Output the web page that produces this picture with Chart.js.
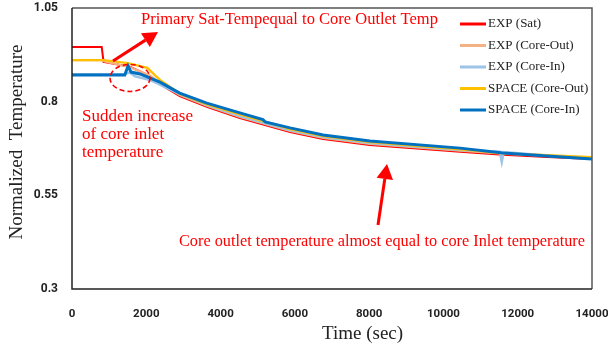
<!DOCTYPE html>
<html>
<head>
<meta charset="utf-8">
<script src="https://cdn.jsdelivr.net/npm/chart.js@4.4.1/dist/chart.umd.min.js"></script>
<style>
  html, body { margin: 0; padding: 0; background: #fff; overflow: hidden; }
</style>
</head>
<body>
<canvas id="grafico" width="608" height="349"></canvas>
<script>
// series labels and colours
const seriesNames = ['EXP (Sat)', 'EXP (Core-Out)', 'EXP (Core-In)', 'SPACE (Core-Out)', 'SPACE (Core-In)'];
const seriesColors = ['#ff0000', '#f4b183', '#9dc3e6', '#ffc000', '#0070c0'];

// tick labels
const xTicks = [0, 2000, 4000, 6000, 8000, 10000, 12000, 14000];
const yTicks = [0.3, 0.55, 0.8, 1.05];

// values (time in sec, normalized temperature)
const tSat = [0, 800, 850, 1560, 2100, 2370, 2900, 3630, 4520, 5870, 6760, 8020, 10450, 11600, 12790, 14000];
const vSat = [0.946, 0.946, 0.906, 0.893, 0.868, 0.847, 0.815, 0.786, 0.756, 0.719, 0.700, 0.684, 0.666, 0.658, 0.652, 0.647];

const tExpOut = [0, 800, 900, 1560, 2100, 2370, 2900, 3630, 4520, 5870, 6760, 8020, 10450, 11600, 12790, 14000];
const vExpOut = [0.911, 0.911, 0.907, 0.892, 0.870, 0.850, 0.818, 0.789, 0.759, 0.722, 0.703, 0.687, 0.669, 0.661, 0.655, 0.650];

const tExpIn = [0, 1400, 1550, 1700, 2100, 2900, 3630, 4520, 5870, 6760, 8020, 10450, 11520, 11570, 11620, 12790, 14000];
const vExpIn = [0.873, 0.873, 0.878, 0.868, 0.858, 0.820, 0.791, 0.762, 0.724, 0.706, 0.690, 0.671, 0.666, 0.640, 0.665, 0.656, 0.648];

const tSpaceOut = [0, 850, 1500, 2030, 2230, 2370, 2900, 3630, 4520, 5870, 6760, 8020, 10450, 11600, 12790, 14000];
const vSpaceOut = [0.911, 0.911, 0.903, 0.890, 0.871, 0.858, 0.821, 0.793, 0.766, 0.727, 0.708, 0.692, 0.673, 0.662, 0.657, 0.652];

const tSpaceIn = [0, 1420, 1510, 1590, 1830, 2370, 2900, 3630, 4520, 5140, 5200, 5870, 6760, 8020, 10450, 11600, 12790, 14000];
const vSpaceIn = [0.871, 0.871, 0.895, 0.879, 0.874, 0.852, 0.823, 0.796, 0.770, 0.752, 0.746, 0.730, 0.711, 0.695, 0.676, 0.663, 0.655, 0.647];

const seriesTimes = [tSat, tExpOut, tExpIn, tSpaceOut, tSpaceIn];
const seriesValues = [vSat, vExpOut, vExpIn, vSpaceOut, vSpaceIn];
const lineWidths = [2, 2.2, 2.6, 2.4, 3];

const serif = '"Liberation Serif", "Times New Roman", serif';

const datasets = seriesNames.map((name, i) => ({
  label: name,
  data: seriesTimes[i].map((t, k) => ({ x: t, y: seriesValues[i][k] })),
  borderColor: seriesColors[i],
  backgroundColor: seriesColors[i],
  borderWidth: lineWidths[i],
  pointRadius: 0,
  tension: 0,
  order: seriesNames.length - i
}));

// box, legend, axis titles and red annotations
const extras = {
  id: 'extras',
  afterDatasetsDraw(chart) {
    const { ctx, scales } = chart;
    // frame follows the scales so it sits exactly on the data range
    const l = scales.x.getPixelForValue(scales.x.min);
    const r = scales.x.getPixelForValue(scales.x.max);
    const t = scales.y.getPixelForValue(scales.y.max);
    const b = scales.y.getPixelForValue(scales.y.min);
    ctx.save();
    ctx.strokeStyle = '#555';
    ctx.lineWidth = 1.5;
    ctx.beginPath();
    ctx.moveTo(l, t);
    ctx.lineTo(r, t);
    ctx.lineTo(r, b);
    ctx.stroke();
    ctx.strokeStyle = '#222';
    ctx.beginPath();
    ctx.moveTo(l, t);
    ctx.lineTo(l, b);
    ctx.lineTo(r, b);
    ctx.stroke();

    // legend
    ctx.font = '13px ' + serif;
    ctx.textBaseline = 'middle';
    ctx.textAlign = 'left';
    seriesNames.forEach((name, i) => {
      const y = 24 + i * 21.5;
      ctx.strokeStyle = seriesColors[i];
      ctx.lineWidth = 3;
      ctx.beginPath();
      ctx.moveTo(460, y);
      ctx.lineTo(486, y);
      ctx.stroke();
      ctx.fillStyle = '#222';
      ctx.fillText(name, 488, y);
    });

    // axis titles
    ctx.fillStyle = '#222';
    ctx.font = '19px ' + serif;
    ctx.fillText('Time (sec)', 322, 334);
    ctx.save();
    ctx.translate(17, 142);
    ctx.rotate(-Math.PI / 2);
    ctx.textAlign = 'center';
    ctx.fillText('Normalized  Temperature', 0, 0);
    ctx.restore();

    // annotations
    ctx.fillStyle = '#ff0000';
    ctx.strokeStyle = '#ff0000';
    ctx.font = '16.5px ' + serif;
    ctx.fillText('Primary Sat-Tempequal to Core Outlet Temp', 141, 20);
    ctx.font = '17px ' + serif;
    ctx.fillText('Sudden increase', 82, 117);
    ctx.fillText('of core inlet', 82, 135);
    ctx.fillText('temperature', 82, 153);
    ctx.font = '16.3px ' + serif;
    ctx.fillText('Core outlet temperature almost equal to core Inlet temperature', 179, 242);

    const arrow = (x0, y0, x1, y1, head) => {
      const ang = Math.atan2(y1 - y0, x1 - x0);
      const bx = x1 - head * Math.cos(ang), by = y1 - head * Math.sin(ang);
      ctx.lineWidth = 3;
      ctx.beginPath();
      ctx.moveTo(x0, y0);
      ctx.lineTo(bx, by);
      ctx.stroke();
      const w = head * 0.55;
      ctx.beginPath();
      ctx.moveTo(x1, y1);
      ctx.lineTo(bx + w * Math.sin(ang), by - w * Math.cos(ang));
      ctx.lineTo(bx - w * Math.sin(ang), by + w * Math.cos(ang));
      ctx.closePath();
      ctx.fill();
    };
    arrow(113, 61, 158, 32, 15);
    arrow(378, 225, 387, 164, 15);

    // dashed circle round the inlet spike
    ctx.lineWidth = 1.6;
    ctx.setLineDash([5, 3]);
    ctx.beginPath();
    ctx.ellipse(130, 78, 20, 13.5, 0, 0, Math.PI * 2);
    ctx.stroke();
    ctx.restore();
  }
};

new Chart(document.getElementById('grafico'), {
  type: 'line',
  data: { datasets: datasets },
  options: {
    responsive: false,
    animation: false,
    layout: { padding: { top: 8, right: 16, left: 0, bottom: 0 } },
    plugins: { legend: { display: false }, tooltip: { enabled: false } },
    scales: {
      x: {
        type: 'linear',
        min: 0,
        max: 14000,
        afterBuildTicks: s => { s.ticks = xTicks.map(v => ({ value: v })); },
        afterFit: s => { s.height = 60; s.paddingLeft = 0; s.paddingRight = 0; },
        grid: { display: false },
        border: { display: false },
        ticks: { color: '#222', font: { family: 'Roboto', weight: 'bold', size: 11.5 }, maxRotation: 0, padding: 10, callback: v => String(v) },
        title: { display: false }
      },
      y: {
        min: 0.3,
        max: 1.05,
        afterBuildTicks: s => { s.ticks = yTicks.map(v => ({ value: v })); },
        afterFit: s => { s.width = 72; s.paddingTop = 0; s.paddingBottom = 0; },
        grid: { display: false },
        border: { display: false },
        ticks: { color: '#222', font: { family: 'Roboto', weight: 'bold', size: 12 }, padding: 6, callback: v => String(v) },
        title: { display: false }
      }
    }
  },
  plugins: [extras]
});
</script>
</body>
</html>
